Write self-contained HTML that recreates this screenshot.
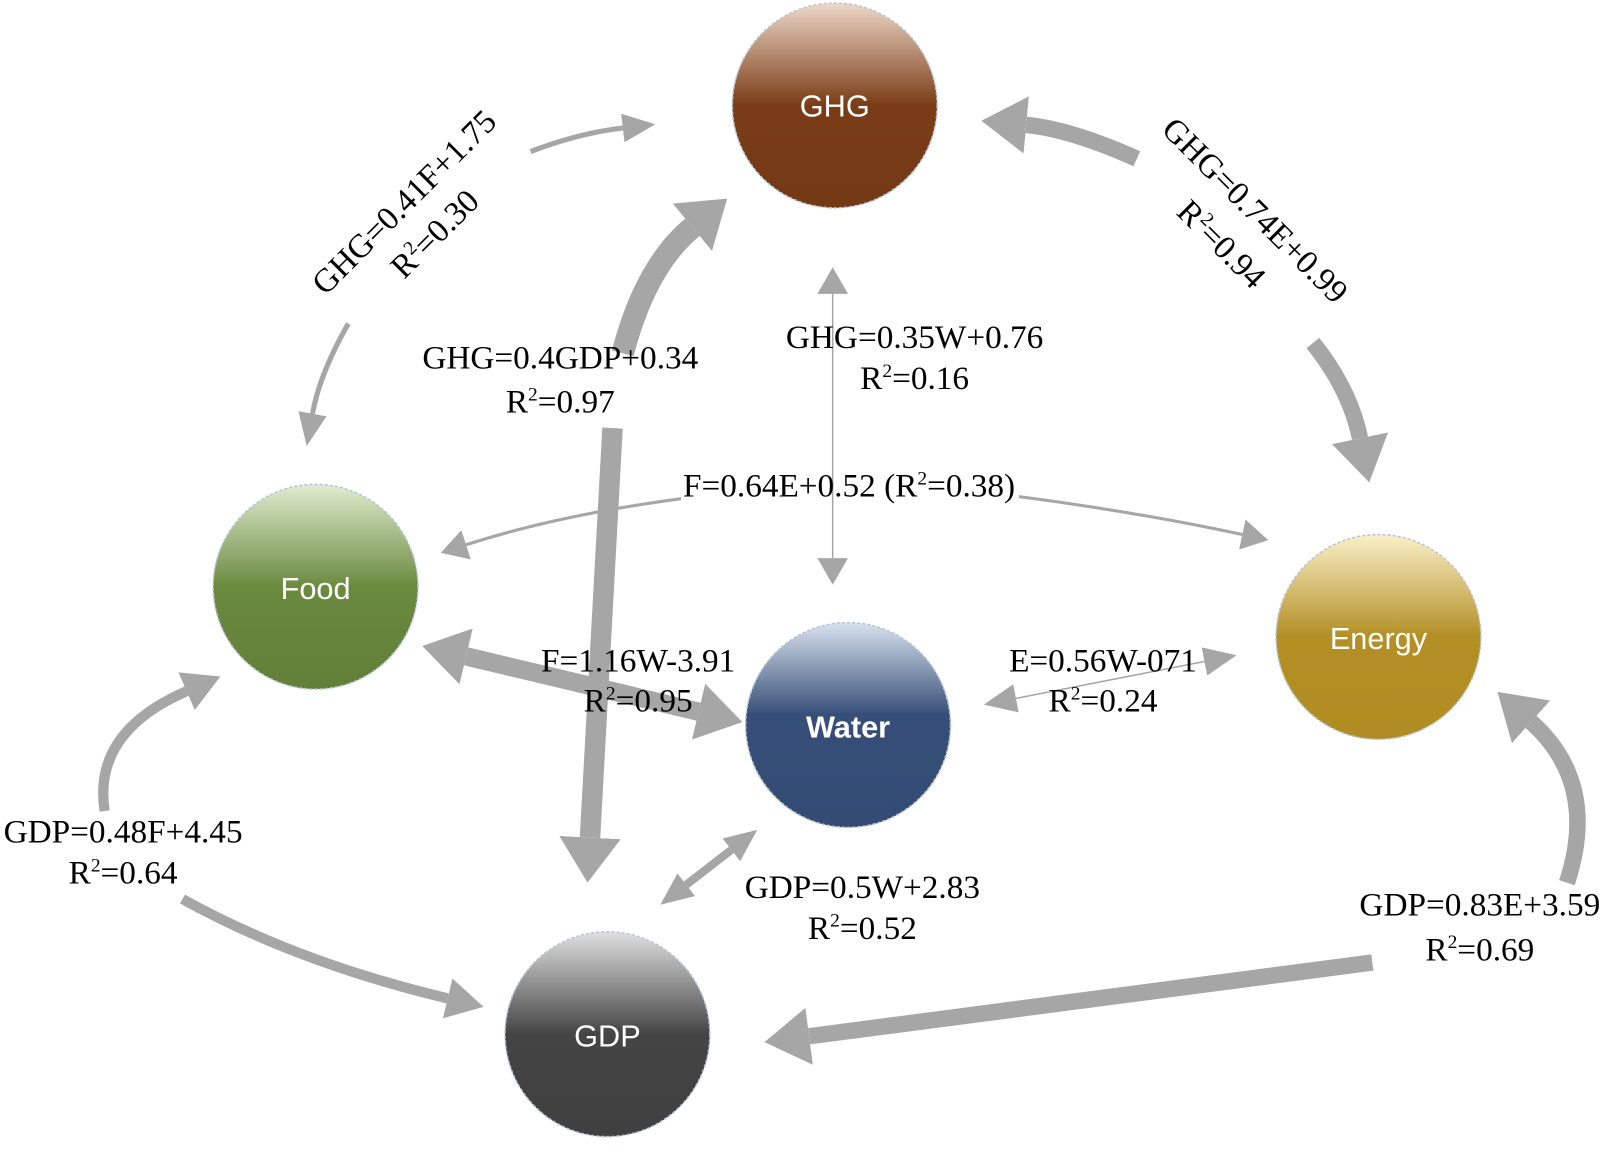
<!DOCTYPE html>
<html><head><meta charset="utf-8"><style>
html,body{margin:0;padding:0;background:#fff;}
svg{display:block;}
text{font-family:"Liberation Serif",serif;fill:#000;}
.n{font-family:"Liberation Sans","DejaVu Sans",sans-serif;fill:#fff;font-size:30px;}
</style></head><body>
<svg width="1606" height="1153" viewBox="0 0 1568 1126" xmlns="http://www.w3.org/2000/svg">
<defs>
<linearGradient id="gG" x1="0" y1="0" x2="0" y2="1"><stop offset="0" stop-color="#eed8c8"/><stop offset="0.5" stop-color="#7a3c16"/><stop offset="1" stop-color="#733a16"/></linearGradient>
<linearGradient id="gF" x1="0" y1="0" x2="0" y2="1"><stop offset="0" stop-color="#e0ecd0"/><stop offset="0.5" stop-color="#6a8a3e"/><stop offset="1" stop-color="#627f38"/></linearGradient>
<linearGradient id="gW" x1="0" y1="0" x2="0" y2="1"><stop offset="0" stop-color="#d8e2ee"/><stop offset="0.45" stop-color="#364f78"/><stop offset="1" stop-color="#344c74"/></linearGradient>
<linearGradient id="gE" x1="0" y1="0" x2="0" y2="1"><stop offset="0" stop-color="#faf0c8"/><stop offset="0.5" stop-color="#b38f24"/><stop offset="1" stop-color="#b08c22"/></linearGradient>
<linearGradient id="gD" x1="0" y1="0" x2="0" y2="1"><stop offset="0" stop-color="#e0e0e0"/><stop offset="0.5" stop-color="#444"/><stop offset="1" stop-color="#404040"/></linearGradient>
<marker id="s" markerUnits="userSpaceOnUse" markerWidth="32" markerHeight="28" refX="0" refY="14" orient="auto-start-reverse" viewBox="0 0 32 28"><path d="M0,0 L32,14 L0,28 z" fill="#a6a6a6"/></marker>
<marker id="m" markerUnits="userSpaceOnUse" markerWidth="36" markerHeight="40" refX="0" refY="20" orient="auto-start-reverse" viewBox="0 0 36 40"><path d="M0,0 L36,20 L0,40 z" fill="#a6a6a6"/></marker>
<marker id="l" markerUnits="userSpaceOnUse" markerWidth="44" markerHeight="56" refX="0" refY="28" orient="auto-start-reverse" viewBox="0 0 44 56"><path d="M0,0 L44,28 L0,56 z" fill="#a6a6a6"/></marker>
<marker id="x" markerUnits="userSpaceOnUse" markerWidth="44" markerHeight="60" refX="0" refY="30" orient="auto-start-reverse" viewBox="0 0 44 60"><path d="M0,0 L44,30 L0,60 z" fill="#a6a6a6"/></marker>
<marker id="t" markerUnits="userSpaceOnUse" markerWidth="26" markerHeight="30" refX="0" refY="15" orient="auto-start-reverse" viewBox="0 0 26 30"><path d="M0,0 L26,15 L0,30 z" fill="#a6a6a6"/></marker>
</defs>
<g fill="none" stroke="#a6a6a6" stroke-linecap="butt">
<path d="M518,148 Q565,130 608,125" stroke-width="5" marker-end="url(#s)"/>
<path d="M340,316 Q312,365 305,404" stroke-width="5" marker-end="url(#s)"/>
<path d="M1110,155 Q1045,126 1002,122" stroke-width="16" marker-end="url(#l)"/>
<path d="M1282,335 Q1318,380 1328,428" stroke-width="16" marker-end="url(#l)"/>
<path d="M608,345 Q630,260 676,222" stroke-width="22" marker-end="url(#x)"/>
<path d="M598,418 L576,818" stroke-width="20" marker-end="url(#x)"/>
<path d="M813,287 L813,545" stroke-width="1.5" marker-start="url(#t)" marker-end="url(#t)"/>
<path d="M665,487 Q545,503 455,532" stroke-width="3" marker-end="url(#t)"/>
<path d="M995,485 Q1110,500 1213,522" stroke-width="3" marker-end="url(#t)"/>
<path d="M455,641 L682,695" stroke-width="18" marker-start="url(#l)" marker-end="url(#l)"/>
<path d="M992,682 L1176,646" stroke-width="1.5" marker-start="url(#s)" marker-end="url(#s)"/>
<path d="M670,864 L714,830" stroke-width="8" marker-start="url(#s)" marker-end="url(#s)"/>
<path d="M102,792 Q90,715 182,675" stroke-width="10" marker-end="url(#m)"/>
<path d="M178,878 Q290,940 437,975" stroke-width="10" marker-end="url(#m)"/>
<path d="M1530,862 Q1562,765 1495,705" stroke-width="16" marker-end="url(#l)"/>
<path d="M1340,940 Q1050,978 790,1012" stroke-width="16" marker-end="url(#l)"/>
</g>
<g stroke="#b8c4d4" stroke-width="1.5" stroke-dasharray="3,2">
<circle cx="815" cy="103" r="100" fill="url(#gG)"/>
<circle cx="308" cy="573" r="100" fill="url(#gF)"/>
<circle cx="828" cy="708" r="100" fill="url(#gW)"/>
<circle cx="1346" cy="622" r="100" fill="url(#gE)"/>
<circle cx="593" cy="1010" r="100" fill="url(#gD)"/>
</g>
<text class="n" x="815" y="114" text-anchor="middle">GHG</text>
<text class="n" x="308" y="585" text-anchor="middle">Food</text>
<text class="n" x="828" y="720" text-anchor="middle" font-weight="bold">Water</text>
<text class="n" x="1346" y="634" text-anchor="middle">Energy</text>
<text class="n" x="593" y="1022" text-anchor="middle">GDP</text>
<g font-size="32.5" text-anchor="middle">
<text transform="translate(402,205) rotate(-45)">GHG=0.41F+1.75</text>
<text transform="translate(432,236) rotate(-45)">R<tspan font-size="19" dy="-12">2</tspan><tspan dy="12">=0.30</tspan></text>
<text transform="translate(1218,213) rotate(45)">GHG=0.74E+0.99</text>
<text transform="translate(1185,246) rotate(45)">R<tspan font-size="19" dy="-12">2</tspan><tspan dy="12">=0.94</tspan></text>
<text x="547" y="360">GHG=0.4GDP+0.34</text>
<text x="547" y="403">R<tspan font-size="19" dy="-12">2</tspan><tspan dy="12">=0.97</tspan></text>
<text x="893" y="340">GHG=0.35W+0.76</text>
<text x="893" y="380">R<tspan font-size="19" dy="-12">2</tspan><tspan dy="12">=0.16</tspan></text>
<text x="829" y="485">F=0.64E+0.52 (R<tspan font-size="19" dy="-12">2</tspan><tspan dy="12">=0.38)</tspan></text>
<text x="623" y="656">F=1.16W-3.91</text>
<text x="623" y="695">R<tspan font-size="19" dy="-12">2</tspan><tspan dy="12">=0.95</tspan></text>
<text x="1077" y="656">E=0.56W-071</text>
<text x="1077" y="695">R<tspan font-size="19" dy="-12">2</tspan><tspan dy="12">=0.24</tspan></text>
<text x="120" y="823">GDP=0.48F+4.45</text>
<text x="120" y="863">R<tspan font-size="19" dy="-12">2</tspan><tspan dy="12">=0.64</tspan></text>
<text x="842" y="877">GDP=0.5W+2.83</text>
<text x="842" y="917">R<tspan font-size="19" dy="-12">2</tspan><tspan dy="12">=0.52</tspan></text>
<text x="1445" y="894">GDP=0.83E+3.59</text>
<text x="1445" y="938">R<tspan font-size="19" dy="-12">2</tspan><tspan dy="12">=0.69</tspan></text>
</g>
</svg>
</body></html>
